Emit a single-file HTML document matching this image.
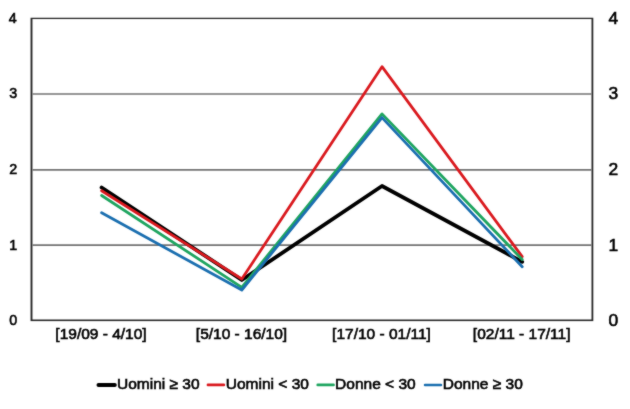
<!DOCTYPE html>
<html>
<head>
<meta charset="utf-8">
<style>
html,body{margin:0;padding:0;background:#fff;}
body{width:630px;height:409px;overflow:hidden;}
svg{display:block;will-change:transform;}
text{font-family:"Liberation Sans",Arial,sans-serif;fill:#000;stroke:#000;stroke-width:0.6px;}
</style>
</head>
<body>
<svg width="630" height="409" viewBox="0 0 630 409">
  <defs><filter id="soft" color-interpolation-filters="sRGB" x="0" y="0" width="630" height="409" filterUnits="userSpaceOnUse"><feConvolveMatrix order="3" kernelMatrix="1 2 1 2 20 2 1 2 1" edgeMode="duplicate"/></filter></defs>
  <g filter="url(#soft)">
  <rect width="630" height="409" fill="#fff"/>
  <!-- plot border -->
  <rect x="30.55" y="17.75" width="562.75" height="303.35" fill="#282828"/>
  <rect x="32.45" y="19.05" width="559.05" height="300.45" fill="#fff"/>
  <!-- gridlines -->
  <g stroke="#737373" stroke-width="1.7">
    <line x1="32.45" y1="94" x2="591.5" y2="94"/>
    <line x1="32.45" y1="169.85" x2="591.5" y2="169.85"/>
    <line x1="32.45" y1="245.1" x2="591.5" y2="245.1"/>
  </g>

  <!-- series -->
  <g fill="none" stroke-linejoin="round" stroke-linecap="round">
    <polyline stroke="#000" stroke-width="3.8" points="101.6,187.5 241.8,280 382,186 522.2,261.8"/>
    <polyline stroke="#da1a1f" stroke-width="2.8" points="101.6,190.7 241.8,279.0 382,66.7 522.2,256.7"/>
    <polyline stroke="#1fa560" stroke-width="2.8" points="101.6,195.5 241.8,287.3 382,113.9 522.2,259.5"/>
    <polyline stroke="#1b6fb0" stroke-width="2.8" points="101.6,212.8 241.8,290 382,117.6 522.2,266.7"/>
  </g>

  <!-- left axis labels -->
  <g font-size="15.2" text-anchor="end">
    <text transform="translate(16.6 22.85) scale(0.94 1)">4</text>
    <text transform="translate(17.2 98.45) scale(0.94 1)">3</text>
    <text transform="translate(17.2 174.15) scale(0.94 1)">2</text>
    <text transform="translate(17.2 249.55) scale(0.94 1)">1</text>
    <text transform="translate(17.2 324.75) scale(0.94 1)">0</text>
  </g>
  <!-- right axis labels -->
  <g font-size="17.4" text-anchor="start">
    <text transform="translate(608.5 23.85) scale(1 1)">4</text>
    <text transform="translate(608.5 99.45) scale(1 1)">3</text>
    <text transform="translate(608.5 175.15) scale(1 1)">2</text>
    <text transform="translate(608.5 250.55) scale(1 1)">1</text>
    <text transform="translate(608.5 325.75) scale(1 1)">0</text>
  </g>

  <!-- category labels -->
  <g font-size="15.5" text-anchor="middle">
    <text x="101" y="339.3">[19/09 - 4/10]</text>
    <text x="241.5" y="339.3">[5/10 - 16/10]</text>
    <text x="381.5" y="339.3">[17/10 - 01/11]</text>
    <text x="521.7" y="339.3">[02/11 - 17/11]</text>
  </g>

  <!-- legend -->
  <g stroke-linecap="round">
    <line x1="98.5" y1="384.9" x2="114.8" y2="384.9" stroke="#000" stroke-width="4"/>
    <line x1="207.9" y1="384.9" x2="223.9" y2="384.9" stroke="#da1a1f" stroke-width="2.6"/>
    <line x1="317.7" y1="384.9" x2="333.6" y2="384.9" stroke="#1fa560" stroke-width="2.6"/>
    <line x1="425" y1="384.9" x2="441" y2="384.9" stroke="#1b6fb0" stroke-width="2.5"/>
  </g>
  <g font-size="15.5">
    <text x="117" y="389.1">Uomini ≥ 30</text>
    <text x="225.8" y="389.1">Uomini &lt; 30</text>
    <text x="335.1" y="389.1">Donne &lt; 30</text>
    <text x="442.8" y="389.1">Donne ≥ 30</text>
  </g>
  </g>
</svg>
</body>
</html>
